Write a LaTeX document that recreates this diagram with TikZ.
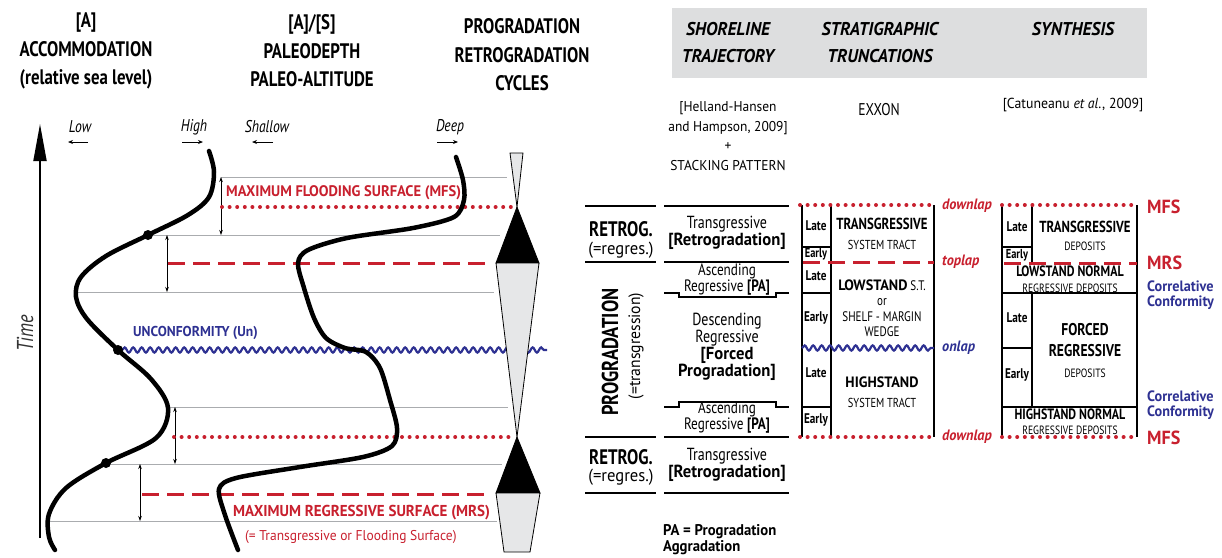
\documentclass[tikz,border=0pt]{standalone}
\usepackage{fontspec}
\setmainfont{PT Sans}[FakeStretch=0.8]
\newfontfamily\wide{PT Sans}[FakeStretch=0.95]
\usetikzlibrary{decorations.pathmorphing,arrows.meta}
\definecolor{myred}{RGB}{200,32,46}
\definecolor{myblue}{RGB}{46,49,146}
\definecolor{lgray}{RGB}{230,231,232}
\definecolor{lngray}{RGB}{170,172,175}
\definecolor{hdgray}{RGB}{221,222,223}
\newcommand{\mfs}[2]{\fontsize{#1}{#2}\selectfont}
\begin{document}
\begin{tikzpicture}[x=1pt,y=-1pt,
  hdr/.style={font=\mfs{21}{28.5}\bfseries, align=center, inner sep=0},
  reddot/.style={myred, line width=4pt, line cap=round, dash pattern=on 0pt off 7.6pt},
  reddash/.style={myred, line width=3pt, dash pattern=on 17pt off 8pt},
  wave/.style={myblue, line width=2.2pt, decorate, decoration={snake, segment length=8.5pt, amplitude=2.6pt}},
  curve/.style={line width=4.5pt, line cap=round, line join=round},
  gline/.style={lngray, line width=0.8pt},
  darr/.style={line width=0.6pt, {Stealth[length=5pt,width=3.5pt]}-{Stealth[length=5pt,width=3.5pt]}},
  smarr/.style={line width=0.9pt, -{Stealth[length=5pt,width=4pt]}},
  tline/.style={line width=2pt},
  bline/.style={line width=1.8pt},
  cyc/.style={draw=black, line width=0.8pt, line join=miter},
  lbl/.style={inner sep=0, align=center},
  dirl/.style={inner sep=0, font=\mfs{17}{18}\itshape}
]
\useasboundingbox (0,0) rectangle (1222,557);

% ---------------- left headers
\node[hdr] (hA) at (86,51) {[A]\\ACCOMMODATION\\(relative sea level)};
\node[hdr] (hS) at (312,51) {[A]/[S]\\PALEODEPTH\\PALEO-ALTITUDE};
\node[hdr] (hC) at (522,55) {PROGRADATION\\RETROGRADATION\\CYCLES};

% direction labels
\node[dirl] (low) at (80,127) {Low};
\node[dirl] (high) at (194,127) {High};
\node[dirl] (shal) at (267,127) {Shallow};
\node[dirl] (deep) at (450,127) {Deep};
\coordinate (la1) at (88,142); \coordinate (la2) at (68,142);
\coordinate (ha1) at (182,142); \coordinate (ha2) at (203,142);
\coordinate (sa1) at (273,142); \coordinate (sa2) at (252,142);
\coordinate (da1) at (437,142); \coordinate (da2) at (458,142);
\draw[smarr] (la1) -- (la2);
\draw[smarr] (ha1) -- (ha2);
\draw[smarr] (sa1) -- (sa2);
\draw[smarr] (da1) -- (da2);

% time axis
\coordinate (t0) at (40,538); \coordinate (t1) at (40,124);
\draw[line width=1.8pt, -{Triangle[length=37pt,width=13pt]}] (t0) -- (t1);
\node[inner sep=0, rotate=90, font=\mfs{23}{25}\itshape, text=black!80] (time) at (25,333) {Time};

% gray horizontal lines
\draw[gline] (221,177) -- (507,177);
\draw[gline] (148,235) -- (500,235);
\draw[gline] (76,292) -- (494,292);
\draw[gline] (168,407) -- (508,407);
\draw[gline] (106,464) -- (502,464);
\draw[gline] (47,521) -- (497,521);

% double arrows
\draw[darr] (221,177) -- (221,235);
\draw[darr] (167,235) -- (167,292);
\draw[darr] (175,407) -- (175,464);
\draw[darr] (140,464) -- (140,521);

% red surfaces
\draw[reddot] (222,207) -- (512,207);
\draw[reddot] (174,437) -- (512,437);
\draw[reddash] (168,263) -- (490,263);
\draw[reddash] (142,494) -- (490,494);

% unconformity
\draw[wave] (122,350) -- (547,350);
\node[inner sep=0, anchor=west, font=\wide\mfs{14.3}{17}\bfseries, text=myblue] (unc) at (133,333) {UNCONFORMITY (Un)};

% red labels
\node[inner sep=0, anchor=west, font=\wide\mfs{15.3}{18}\bfseries, text=myred] (mfs) at (226,193) {MAXIMUM FLOODING SURFACE (MFS)};
\node[inner sep=0, anchor=west, font=\wide\mfs{15.8}{18}\bfseries, text=myred] (mrs) at (233,513) {MAXIMUM REGRESSIVE SURFACE (MRS)};
\node[inner sep=0, anchor=west, font=\wide\mfs{14.2}{17}, text=myred] (mrs2) at (245,537) {(= Transgressive or Flooding Surface)};

% cycles
\draw[cyc, fill=lgray] (510,153) -- (523,153) -- (517,207) -- cycle;
\draw[cyc, fill=black] (517,207) -- (539,263) -- (496,263) -- cycle;
\draw[cyc, fill=lgray] (496,263) -- (539,263) -- (517,437) -- cycle;
\draw[cyc, fill=black] (517,437) -- (540,493) -- (496,493) -- cycle;
\draw[cyc, fill=lgray] (496,493) -- (540,493) -- (530,552) -- (504,552) -- cycle;

% curves
\draw[curve] plot[smooth, tension=0.55] coordinates {(209,151) (214,172) (209,197) (188,215) (148,235) (106,256) (81,277) (76,297) (87,319) (118,350) (151,379) (168,408) (156,438) (106,463) (66,488) (49,514) (49,537) (55,550)};
\draw[curve] plot[smooth, tension=0.5] coordinates {(456,157) (463,180) (464,200) (454,217) (413,228) (347,238) (308,250) (298,263) (304,288) (314,318) (326,338) (345,348) (366,352) (380,368) (390,400) (397,428) (392,446) (363,457) (300,467) (236,478) (219,489) (225,515) (238,550)};

\fill (148,235) circle (5);
\fill (118,350) circle (5);
\fill (106,463) circle (5);

% ---------------- right part
\fill[hdgray] (672,8) rectangle (1147,78);
\node[inner sep=0, align=center, font=\wide\mfs{18.5}{27}\bfseries\itshape] (c1) at (728,43) {SHORELINE\\TRAJECTORY};
\node[inner sep=0, align=center, font=\wide\mfs{18.5}{27}\bfseries\itshape] (c2) at (880,43) {STRATIGRAPHIC\\TRUNCATIONS};
\node[inner sep=0, align=center, font=\wide\mfs{18.5}{27}\bfseries\itshape] (c3) at (1073,29) {SYNTHESIS};

\node[inner sep=0, align=center, font=\wide\mfs{14.2}{19.5}] (ref1) at (728,136) {[Helland-Hansen\\and Hampson, 2009]\\+\\STACKING PATTERN};
\node[inner sep=0, font=\mfs{17}{19}] (exx) at (879,110) {EXXON};
\node[inner sep=0, font=\wide\mfs{14.5}{18}] (ref3) at (1073,105) {[Catuneanu \textit{et al}., 2009]};

% shoreline trajectory table
\draw[tline] (585,206) -- (656,206);  \draw[tline] (664,206) -- (789,206);
\draw[tline] (585,262) -- (656,262);  \draw[tline] (664,262) -- (789,262);
\draw[tline] (585,437) -- (656,437);  \draw[tline] (664,437) -- (789,437);
\draw[tline] (585,493) -- (656,493);  \draw[tline] (664,493) -- (789,493);
\draw[line width=1.5pt] (664,293) -- (679,293) -- (679,297) -- (776,297) -- (776,293) -- (789,293);
\draw[line width=1.5pt] (664,407) -- (679,407) -- (679,402) -- (776,402) -- (776,407) -- (789,407);

\node[lbl, font=\mfs{21}{22}\bfseries] (rt1) at (621,229) {RETROG.};
\node[lbl, font=\wide\mfs{17.5}{18}] (rr1) at (621,250) {(=regres.)};
\node[lbl, font=\mfs{21}{22}\bfseries] (rt2) at (621,457) {RETROG.};
\node[lbl, font=\wide\mfs{17.5}{18}] (rr2) at (621,477) {(=regres.)};
\node[lbl, rotate=90, font=\mfs{23}{22}\bfseries] (prog) at (610,352) {PROGRADATION};
\node[lbl, rotate=90, font=\wide\mfs{16.5}{18}] (ptr) at (636,346) {(=transgression)};

\node[lbl, font=\mfs{17.5}{16}] (s1) at (727,233) {Transgressive\\{\wide\bfseries [Retrogradation]}};
\node[lbl, font=\mfs{16.5}{16}] (s2) at (727,280) {Ascending\\Regressive \textbf{[PA]}};
\node[lbl, font=\mfs{17.5}{15.5}] (s3) at (727,347) {Descending\\Regressive\\{\wide\bfseries [Forced}\\{\wide\bfseries Progradation]}};
\node[lbl, font=\mfs{16.5}{16}] (s4) at (727,418) {Ascending\\Regressive \textbf{[PA]}};
\node[lbl, font=\mfs{17.5}{16}] (s5) at (727,465) {Transgressive\\{\wide\bfseries [Retrogradation]}};
\node[lbl, anchor=north west, align=left, font=\wide\mfs{15.5}{16}\bfseries] (pa) at (663,524) {PA = Progradation\\Aggradation};

% stratigraphic truncations table
\draw[bline] (802,205) -- (802,437);
\draw[bline] (934,205) -- (934,437);
\draw[bline] (831,205) -- (831,437);
\draw[bline] (802,247) -- (831,247);
\draw[bline] (802,293) -- (831,293);
\draw[bline] (802,407) -- (831,407);
\draw[reddot] (800,205) -- (936,205);
\draw[reddot] (800,437) -- (936,437);
\draw[reddash] (803,262) -- (934,262);
\draw[wave] (802,348) -- (934,348);

\node[lbl, font=\mfs{14}{15}\bfseries] (tl1) at (816,226) {Late};
\node[lbl, font=\mfs{13}{14}\bfseries] (te1) at (816,254) {Early};
\node[lbl, font=\mfs{14}{15}\bfseries] (tl2) at (816,276) {Late};
\node[lbl, font=\mfs{14}{15}\bfseries] (te2) at (816,318) {Early};
\node[lbl, font=\mfs{14}{15}\bfseries] (tl3) at (816,373) {Late};
\node[lbl, font=\mfs{14}{15}\bfseries] (te3) at (816,420) {Early};

\node[lbl, font=\mfs{16}{20}] (tst) at (882,234) {\textbf{TRANSGRESSIVE}\\{\mfs{13}{20}SYSTEM TRACT}};
\node[lbl, font=\mfs{13.8}{15.5}] (lst) at (882,308) {{\wide\mfs{15}{15.5}\bfseries LOWSTAND} S.T.\\or\\SHELF - MARGIN\\WEDGE};
\node[lbl, font=\mfs{15}{20}] (hst) at (882,392) {{\wide\bfseries HIGHSTAND}\\{\mfs{13}{20}SYSTEM TRACT}};

\node[lbl, anchor=west, font=\wide\mfs{15}{17}\bfseries\itshape, text=myred] (dl1) at (942,206) {downlap};
\node[lbl, anchor=west, font=\wide\mfs{15}{17}\bfseries\itshape, text=myred] (tpl) at (942,262) {toplap};
\node[lbl, anchor=west, font=\wide\mfs{15}{17}\bfseries\itshape, text=myblue] (onl) at (942,348) {onlap};
\node[lbl, anchor=west, font=\wide\mfs{15}{17}\bfseries\itshape, text=myred] (dl2) at (942,437) {downlap};

% synthesis table
\draw[bline] (1002,205) -- (1002,437);
\draw[bline] (1137,205) -- (1137,437);
\draw[bline] (1032,205) -- (1032,263);
\draw[bline] (1032,293) -- (1032,407);
\draw[bline] (1002,247) -- (1032,247);
\draw[bline] (1002,293) -- (1137,293);
\draw[bline] (1002,348) -- (1032,348);
\draw[bline] (1002,407) -- (1137,407);
\draw[reddot] (1002,205) -- (1138,205);
\draw[reddot] (1002,437) -- (1138,437);
\draw[reddash] (1004,263) -- (1137,263);

\node[lbl, font=\mfs{14}{15}\bfseries] (yl1) at (1017,227) {Late};
\node[lbl, font=\mfs{13}{14}\bfseries] (ye1) at (1017,255) {Early};
\node[lbl, font=\mfs{14}{15}\bfseries] (yl2) at (1017,318) {Late};
\node[lbl, font=\mfs{14}{15}\bfseries] (ye2) at (1017,375) {Early};
\node[lbl, font=\mfs{16}{18}] (ytd) at (1085,236) {\textbf{TRANSGRESSIVE}\\{\mfs{12}{18}DEPOSITS}};
\node[lbl, font=\mfs{15}{16}] (yln) at (1070,279) {\textbf{LOWSTAND NORMAL}\\{\mfs{12}{16}REGRESSIVE DEPOSITS}};
\node[lbl, font=\mfs{17}{21}] (yfr) at (1085,350) {\textbf{FORCED}\\\textbf{REGRESSIVE}\\{\mfs{12}{19}DEPOSITS}};
\node[lbl, font=\mfs{15}{15}] (yhn) at (1070,422) {\textbf{HIGHSTAND NORMAL}\\{\mfs{12}{15}REGRESSIVE DEPOSITS}};

\node[lbl, anchor=west, font=\wide\mfs{19}{20}\bfseries, text=myred] (m1) at (1147,207) {MFS};
\node[lbl, anchor=west, font=\wide\mfs{19}{20}\bfseries, text=myred] (m2) at (1147,263) {MRS};
\node[lbl, anchor=west, align=left, font=\wide\mfs{15}{15.5}\bfseries, text=myblue] (cc1) at (1147,295) {Correlative\\Conformity};
\node[lbl, anchor=west, align=left, font=\wide\mfs{15}{15.5}\bfseries, text=myblue] (cc2) at (1147,405) {Correlative\\Conformity};
\node[lbl, anchor=west, font=\wide\mfs{19}{20}\bfseries, text=myred] (m3) at (1147,438) {MFS};
\end{tikzpicture}
\end{document}
